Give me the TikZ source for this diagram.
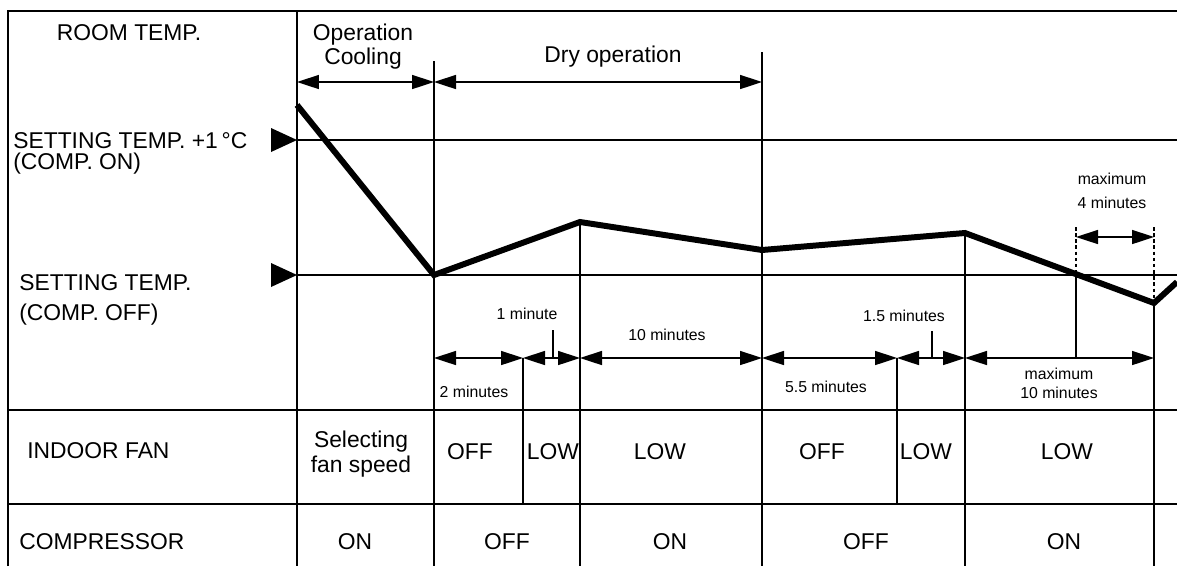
\documentclass[tikz,border=0pt]{standalone}
\usepackage{fontspec}
\setmainfont{Liberation Sans}
\usetikzlibrary{arrows.meta}

\begin{document}
\begin{tikzpicture}[x=0.02cm,y=-0.02cm,
  every node/.style={inner sep=0pt,font=\fontsize{13}{13.5}\selectfont},
  small/.style={font=\fontsize{9}{10.5}\selectfont},
  grid/.style={line width=1.3pt},
  dim/.style={line width=0.9pt,{Triangle[length=0.44cm,width=0.28cm]}-{Triangle[length=0.44cm,width=0.28cm]}},
  temp/.style={line width=3.4pt},
  limit/.style={line width=0.7pt,dash pattern=on 2pt off 1.5pt}]

\useasboundingbox (0,0) rectangle (1177,566);

% time marks on the lower dimension line
\foreach \n/\x in {a/297,b/434,c/523,d/580,e/762,f/897,g/965,h/1076,i/1154}
  \coordinate (\n) at (\x,358);
\coordinate (up) at (0,82);
\coordinate (mx) at (0,237);
\coordinate (dz) at (0,227);
\coordinate (fr) at (0,504);
\coordinate (bot) at (0,566);

% room temperature curve
\coordinate (r0) at (297,105);
\coordinate (r1) at (434,275);
\coordinate (r2) at (580,222);
\coordinate (r3) at (762,250);
\coordinate (r4) at (965,233);
\coordinate (r5) at (1154,303);
\coordinate (r6) at (1177,282);

% frame
\draw[grid] (8,566) -- (8,11) -- (1177,11);
\draw[grid] (297,140) -- (1177,140) (297,275) -- (1177,275);
\draw[grid] (8,410) -- (1177,410) (8,504) -- (1177,504);
\draw[grid] (297,11) -- (297,566) (434,61) -- (434,566) (762,52) -- (762,566);
\draw[grid] (r2) -- (r2 |- bot) (r4) -- (r4 |- bot) (r5) -- (r5 |- bot);
\draw[grid] (c) -- (c |- fr) (f) -- (f |- fr) (h |- r1) -- (h);
\draw[limit] (h |- dz) -- (h |- r1) (i |- dz) -- (r5);

\fill (271,128) -- (297,140) -- (271,152) -- cycle;
\fill (271,263) -- (297,275) -- (271,287) -- cycle;

\draw[temp] (r0) -- (r1) -- (r2) -- (r3) -- (r4) -- (r5) -- (r6);

% durations
\draw[dim] (a |- up) -- (b |- up);
\draw[dim] (b |- up) -- (e |- up);
\foreach \s/\t in {b/c,c/d,d/e,e/f,f/g,g/i}
  \draw[dim] (\s) -- (\t);
\draw[dim] (h |- mx) -- (i |- mx);
\draw[line width=0.9pt] (553,330) -- (553,358) (932,331) -- (932,358);

% labels (base = last line)
\node[anchor=base] (room) at (129,40) {ROOM TEMP.};
\node[anchor=base,align=center] (cool) at (363,64) {Operation\\Cooling};
\node[anchor=base] (dry) at (613,62) {Dry operation};
\node[anchor=base west,align=left] (son) at (13,169) {SETTING TEMP. +1\,°C\\[-1.6pt](COMP. ON)};
\node[anchor=base west,align=left] (soff) at (19,320) {SETTING TEMP.\\[3.5pt](COMP. OFF)};
\node[anchor=base west] (fan) at (27,458) {INDOOR FAN};
\node[anchor=base west] (comp) at (19,549) {COMPRESSOR};
\node[anchor=base,align=center] (sel) at (361,472) {Selecting\\[0.7pt]fan speed};

\node[small,anchor=base] (m1) at (527,319) {1 minute};
\node[small,anchor=base] (m10) at (667,340) {10 minutes};
\node[small,anchor=base] (m2) at (474,397) {2 minutes};
\node[small,anchor=base] (m55) at (826,392) {5.5 minutes};
\node[small,anchor=base] (m15) at (904,321) {1.5 minutes};
\node[small,anchor=base,align=center] (mx10) at (1059,398) {maximum\\[0.3pt]10 minutes};
\node[small,anchor=base,align=center] (mx4) at (1112,208) {maximum\\[3.1pt]4 minutes};

\foreach \x/\t [count=\k] in {470/OFF,553/LOW,660/LOW,822/OFF,926/LOW,1067/LOW}
  \node[anchor=base] (fan\k) at (\x,459) {\t};
\foreach \x/\t [count=\k] in {355/ON,507/OFF,670/ON,866/OFF,1064/ON}
  \node[anchor=base] (comp\k) at (\x,549) {\t};
\end{tikzpicture}
\end{document}
